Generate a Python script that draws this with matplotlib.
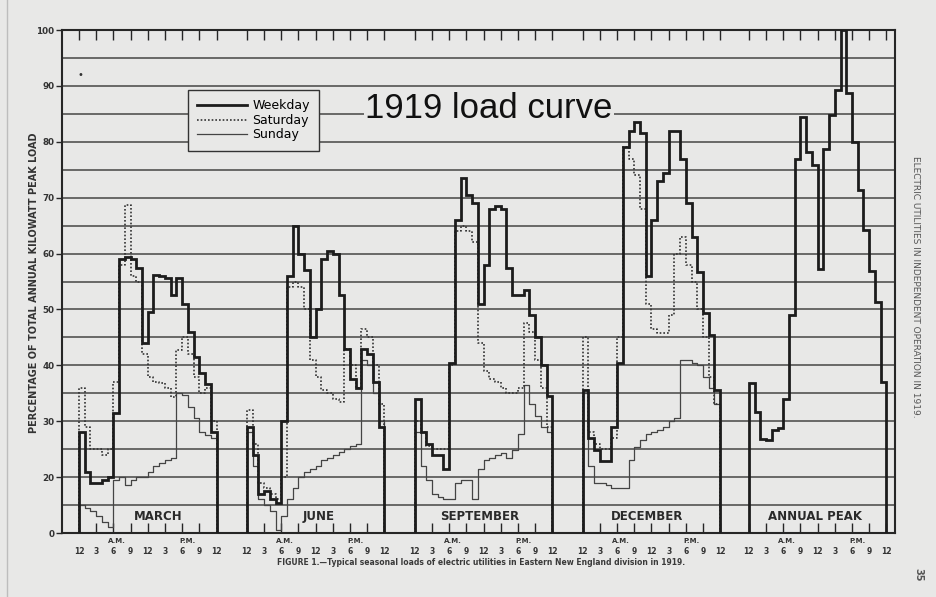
import matplotlib.pyplot as plt
from matplotlib.lines import Line2D
from matplotlib.transforms import blended_transform_factory

panel_names = ["MARCH", "JUNE", "SEPTEMBER", "DECEMBER", "ANNUAL PEAK"]
hour_labels = ["12", "3", "6", "9", "12", "3", "6", "9", "12"]
y_ticks = [10, 20, 30, 40, 50, 60, 70, 80, 90, 100]
y_tick_labels = ["0", "20", "30", "40", "50", "60", "70", "80", "90", "100"]

# hourly loads, % of annual peak
march_weekday = [28, 21, 19, 19, 19.5, 20, 31.5, 59, 59.3, 59, 57.5, 44,
                 49.6, 56.2, 56, 55.6, 52.6, 55.6, 51, 46, 41.5, 38.6, 36.6, 28]
march_saturday = [36, 29, 25, 25, 24, 25, 37, 58, 68.7, 56, 55, 42,
                  38, 37, 36.9, 36, 34.4, 42.7, 45, 42, 38, 35, 36, 30]
march_sunday = [15, 14.5, 14, 13, 12, 11, 19.5, 20, 18.5, 19.5, 20, 20,
                21, 22, 22.5, 23, 23.5, 35, 34.7, 32.5, 30.5, 28, 27.5, 27]

june_weekday = [29, 24, 17, 17.5, 16, 15.3, 30, 56, 65, 60, 57, 45,
                50, 59, 60.5, 60, 52.5, 43, 37.5, 36, 43, 42, 37, 29]
june_saturday = [32, 26, 19, 18, 17, 16, 20, 54, 55, 54, 50, 41,
                 38, 35.5, 35, 34, 33.5, 43, 40, 36, 46.5, 45, 40, 33]
june_sunday = [28, 22, 16, 15, 14, 10.5, 13, 16, 18, 20, 21, 21.5,
               22, 23, 23.5, 24, 24.5, 25, 25.5, 26, 41, 40, 35, 30]

sept_weekday = [34, 28, 26, 24, 24, 21.5, 40.5, 66, 73.5, 70.5, 69, 51,
                58, 68, 68.5, 68, 57.5, 52.5, 52.5, 53.5, 49, 45, 40, 34.5]
sept_saturday = [30, 28, 25.5, 25, 25, 25, 40, 64, 65, 64, 62, 44,
                 39, 37.5, 37, 36, 35, 35, 36, 47.5, 46, 41, 36, 29]
sept_sunday = [28, 22, 19.5, 17, 16.5, 16, 16, 19, 19.5, 19.5, 16, 21.5,
               23, 23.5, 24, 24.3, 23.5, 24.8, 27.8, 36.5, 33, 31, 29, 28]

dec_weekday = [35.5, 27, 24.8, 22.8, 22.8, 29, 40.5, 79, 82, 83.6, 81.5, 56,
               66, 73, 74.5, 82, 82, 77, 69, 63, 56.7, 49.3, 45.5, 35.6]
dec_saturday = [45, 28, 26, 25, 25, 27, 45, 79, 77, 74, 68, 51,
                46.5, 45.7, 45.7, 49, 60, 63, 58, 55, 50, 45, 38, 33]
dec_sunday = [35, 22, 19, 19, 18.5, 18, 18, 18, 23, 25.4, 26.6, 27.8,
              28, 28.5, 29, 30, 30.5, 41, 41, 40.5, 40, 38, 36, 33]

annual_peak = [36.8, 31.7, 26.9, 26.6, 28.4, 28.7, 34, 49, 77, 84.5, 78.2, 75.8,
               57.3, 78.8, 84.8, 89.2, 100, 88.7, 80, 71.4, 64.2, 56.8, 51.4, 37.1]

series = {
    "MARCH": (march_weekday, march_saturday, march_sunday),
    "JUNE": (june_weekday, june_saturday, june_sunday),
    "SEPTEMBER": (sept_weekday, sept_saturday, sept_sunday),
    "DECEMBER": (dec_weekday, dec_saturday, dec_sunday),
    "ANNUAL PEAK": (annual_peak, None, None),
}

bg = "#e8e8e7"
ink = "#262626"
base = 10
panel_offsets = [0, 29.3, 58.6, 87.9, 116.9]

weekday_style = dict(color="#1c1c1c", lw=2.0, solid_joinstyle="miter", zorder=5)
saturday_style = dict(color="#333333", lw=1.2, ls=(0, (1, 1.2)), zorder=4)
sunday_style = dict(color="#444444", lw=0.9, zorder=3)


def step_xy(x0, vals):
    xs = [x0] + [x0 + i for i in range(25)] + [x0 + 24]
    ys = [base] + list(vals) + [vals[-1], base]
    return xs, ys


fig = plt.figure(figsize=(9.36, 5.97), dpi=100, facecolor=bg)
ax = fig.add_axes([0.0662, 0.1072, 0.8900, 0.8425], facecolor=bg)

for name, x0 in zip(panel_names, panel_offsets):
    wk, sat, sun = series[name]
    if sun is not None:
        ax.plot(*step_xy(x0, sun), drawstyle="steps-post", **sunday_style)
    if sat is not None:
        ax.plot(*step_xy(x0, sat), drawstyle="steps-post", **saturday_style)
    ax.plot(*step_xy(x0, wk), drawstyle="steps-post", **weekday_style)

ax.set_xlim(-2.97, 142.4)
ax.set_ylim(10, 100)

# grid every 5 %
ax.set_yticks(y_ticks)
ax.set_yticklabels(y_tick_labels)
ax.set_yticks([v + 5 for v in y_ticks[:-1]], minor=True)
ax.grid(axis="y", which="both", color="#454545", lw=1.1, zorder=1)
ax.tick_params(axis="y", which="major", length=4, width=1, color=ink,
               labelsize=6.3, labelcolor="#333333", pad=1.5)
ax.tick_params(axis="y", which="minor", length=0)
for lab in ax.get_yticklabels():
    lab.set_fontweight("bold")

xt, xl = [], []
for x0 in panel_offsets:
    for i, lab in enumerate(hour_labels):
        xt.append(x0 + 3 * i)
        xl.append(lab)
ax.set_xticks(xt)
ax.set_xticklabels(xl)
ax.tick_params(axis="x", direction="in", length=7, width=1, color=ink,
               top=True, labelsize=5.5, labelcolor="#333333", pad=10)
for lab in ax.get_xticklabels():
    lab.set_fontweight("bold")

for sp in ax.spines.values():
    sp.set_color(ink)
    sp.set_linewidth(1.5)

trans = blended_transform_factory(ax.transData, ax.transAxes)
month_pos = [13.8, 12.6, 11.4, 11.2, 11.6]
for name, x0, mp in zip(panel_names, panel_offsets, month_pos):
    ax.text(x0 + mp, 10 + 3.0, name, ha="center", va="center",
            fontsize=8.5, fontweight="bold", color="#2a2a2a", zorder=6)
    ax.text(x0 + 6.6, -0.016, "A.M.", transform=trans, ha="center",
            va="center", fontsize=5, fontweight="bold", color="#333333")
    ax.text(x0 + 19, -0.016, "P.M.", transform=trans, ha="center",
            va="center", fontsize=5, fontweight="bold", color="#333333")

handles = [Line2D([], [], **weekday_style),
           Line2D([], [], **saturday_style),
           Line2D([], [], **sunday_style)]
leg = ax.legend(handles, ["Weekday", "Saturday", "Sunday"], loc="upper left",
                bbox_to_anchor=(0.2009, 0.8492), bbox_transform=fig.transFigure,
                borderaxespad=0, fancybox=False, edgecolor="#333333",
                facecolor=bg, framealpha=1, fontsize=9, handlelength=4.0,
                labelspacing=0.12, borderpad=0.75, handletextpad=0.4)
leg.get_frame().set_linewidth(1.0)
leg.set_zorder(7)

fig.text(0.39, 0.802, "1919 load curve", fontsize=25, family="Liberation Sans",
         color="#111111", va="baseline",
         bbox=dict(facecolor=bg, edgecolor="none", pad=1))

fig.text(0.0365, 0.527, "PERCENTAGE OF TOTAL ANNUAL KILOWATT PEAK LOAD",
         rotation=90, ha="center", va="center", fontsize=7,
         fontweight="bold", color="#333333")

fig.text(0.514, 0.057, "FIGURE 1.\u2014Typical seasonal loads of electric utilities "
         "in Eastern New England division in 1919.",
         ha="center", va="center", fontsize=5.5, fontweight="bold", color="#3a3a3a")

fig.text(0.978, 0.52, "ELECTRIC UTILITIES IN INDEPENDENT OPERATION IN 1919.",
         rotation=-90, ha="center", va="center", fontsize=6.5, color="#555555")
fig.text(0.981, 0.037, "35", rotation=-90, ha="center", va="center",
         fontsize=7, fontweight="bold", color="#555555")
fig.text(0.0855, 0.874, "\u2022", ha="center", va="center", fontsize=7, color="#333333")

fig.add_artist(Line2D([0.0075, 0.0075], [0.0, 1.0], transform=fig.transFigure,
                      color="#bdbdbd", lw=1.0))

fig.savefig("out.png", dpi=100, facecolor=bg)
